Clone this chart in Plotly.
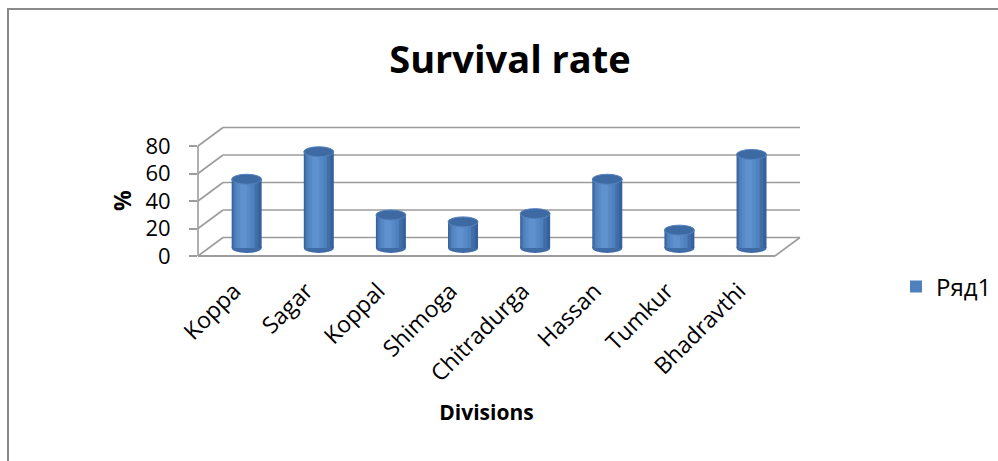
import plotly.graph_objects as go

# ---- data ----
categories = ["Koppa", "Sagar", "Koppal", "Shimoga", "Chitradurga", "Hassan", "Tumkur", "Bhadravthi"]
values = [50, 70, 24, 19, 25, 50, 13, 68]
y_ticks = [0, 20, 40, 60, 80]
series_name = "Ряд1"
title_text = "Survival rate"
x_title = "Divisions"
y_title = "%"

# ---- geometry (pixels) ----
W_FIG, H_FIG = 998, 461
L, R, T, B = 198, 223, 118, 205
PW = W_FIG - L - R          # plot width
PH = H_FIG - T - B          # plot height
BOTTOM = H_FIG - B          # pixel y of front floor
S = 1.375                   # px per y unit
CW = PW / len(categories)   # px per category
BACK_DX, BACK_DY = 25, 18.5
MID_DX, MID_DY = 12.6, 8.0

def px_x(p):
    return (p - L) / PW

def px_y(p):
    return (BOTTOM - p) / PH

FONT = "Open Sans"
GRID = "#9c9c9c"

fig = go.Figure()

# ---- cylinder bars drawn as layered bars for a gradient look ----
x_pos = list(range(len(categories)))
BW = 30 / CW  # cylinder width in category units
layers = [
    (1.00, 0.00, "#36619a", False),
    (0.86, -0.04, "#416ea8", False),
    (0.68, -0.07, "#4F81BD", True),
    (0.46, -0.09, "#5789c6", False),
    (0.24, -0.10, "#5f91cf", False),
]
for frac, shift, col, show in layers:
    w = BW * frac
    c = BW * shift
    fig.add_trace(go.Bar(
        x=x_pos, y=values, width=[w] * len(x_pos), offset=[c - w / 2] * len(x_pos),
        marker=dict(color=col, line=dict(width=0)),
        name=series_name, showlegend=show,
        xaxis="x2", yaxis="y2", hoverinfo="skip",
    ))

# category axis carrier (front) - invisible trace to hold ticks
fig.add_trace(go.Scatter(x=x_pos, y=[None] * len(x_pos), mode="markers",
                         showlegend=False, hoverinfo="skip"))

shapes = []
# back wall gridlines
for v in y_ticks:
    yb = BOTTOM - BACK_DY - v * S
    shapes.append(dict(type="line", xref="paper", yref="paper",
                       x0=px_x(L + BACK_DX), x1=px_x(L + PW + BACK_DX),
                       y0=px_y(yb), y1=px_y(yb),
                       line=dict(color=GRID, width=1.6), layer="below"))
    # left wall diagonals
    yf = BOTTOM - v * S
    shapes.append(dict(type="line", xref="paper", yref="paper",
                       x0=px_x(L), x1=px_x(L + BACK_DX),
                       y0=px_y(yf), y1=px_y(yb),
                       line=dict(color=GRID, width=1.6), layer="below"))
# front vertical axis line
shapes.append(dict(type="line", xref="paper", yref="paper",
                   x0=px_x(L), x1=px_x(L), y0=px_y(BOTTOM), y1=px_y(BOTTOM - y_ticks[-1] * S),
                   line=dict(color=GRID, width=1.6), layer="below"))
# floor front and right edges
shapes.append(dict(type="line", xref="paper", yref="paper",
                   x0=px_x(L), x1=px_x(L + PW), y0=px_y(BOTTOM), y1=px_y(BOTTOM),
                   line=dict(color=GRID, width=2), layer="below"))
shapes.append(dict(type="line", xref="paper", yref="paper",
                   x0=px_x(L + PW), x1=px_x(L + PW + BACK_DX),
                   y0=px_y(BOTTOM), y1=px_y(BOTTOM - BACK_DY),
                   line=dict(color=GRID, width=1.6), layer="below"))
# chart frame
shapes.append(dict(type="rect", xref="paper", yref="paper",
                   x0=px_x(8), x1=px_x(1010), y0=px_y(480), y1=px_y(9),
                   line=dict(color="#8a8a8a", width=2), fillcolor="rgba(0,0,0,0)", layer="below"))

# cylinder ends (ellipses)
EH = 5.0 / S
for i, v in zip(x_pos, values):
    shapes.append(dict(type="circle", xref="x2", yref="y2",
                       x0=i - BW / 2, x1=i + BW / 2, y0=-EH, y1=EH,
                       fillcolor="#3f6ca6", line=dict(width=0), layer="below"))
    shapes.append(dict(type="circle", xref="x2", yref="y2",
                       x0=i - BW / 2, x1=i + BW / 2, y0=v - EH, y1=v + EH,
                       fillcolor="#3d6aa3", line=dict(color="#5583bd", width=1), layer="above"))

# y-axis title placed at the middle of the 0-80 front axis
annotations = [dict(text="<b>" + y_title + "</b>", xref="paper", yref="paper",
                    x=px_x(122), y=px_y(BOTTOM - y_ticks[-1] * S / 2),
                    xanchor="center", yanchor="middle", textangle=-90, showarrow=False,
                    font=dict(size=23, family=FONT, color="black"))]

d = MID_DX / CW
fig.update_layout(
    width=W_FIG, height=H_FIG,
    margin=dict(l=L, r=R, t=T, b=B, autoexpand=False),
    paper_bgcolor="white", plot_bgcolor="rgba(0,0,0,0)",
    font=dict(family=FONT, color="black"),
    title=dict(text=title_text, x=510 / W_FIG, y=1 - 60 / H_FIG, xref="container", yref="container",
               xanchor="center", yanchor="middle",
               font=dict(family=FONT, size=38, weight="bold", color="black")),
    barmode="overlay",
    xaxis=dict(range=[-0.5, len(categories) - 0.5], tickvals=x_pos, ticktext=categories,
               tickangle=-45, showgrid=False, zeroline=False, showline=False, ticks="",
               ticklabelstandoff=16, tickfont=dict(size=23, family=FONT),
               title=dict(text=x_title, standoff=18, font=dict(size=21, family=FONT, weight="bold"))),
    xaxis2=dict(range=[-0.5 - d, len(categories) - 0.5 - d], overlaying="x", visible=False),
    yaxis=dict(range=[0, PH / S], tickvals=y_ticks, showgrid=False, zeroline=False, showline=False,
               ticks="outside", ticklen=8, tickcolor=GRID, tickwidth=1.6,
               ticklabelstandoff=14, tickfont=dict(size=22, family=FONT)),
    yaxis2=dict(range=[-MID_DY / S, (PH - MID_DY) / S], overlaying="y", visible=False),
    legend=dict(x=px_x(896), y=px_y(287), xanchor="left", yanchor="middle",
                font=dict(size=24, family=FONT), bgcolor="rgba(0,0,0,0)"),
    shapes=shapes,
    annotations=annotations,
)

fig.write_html("out.html")
